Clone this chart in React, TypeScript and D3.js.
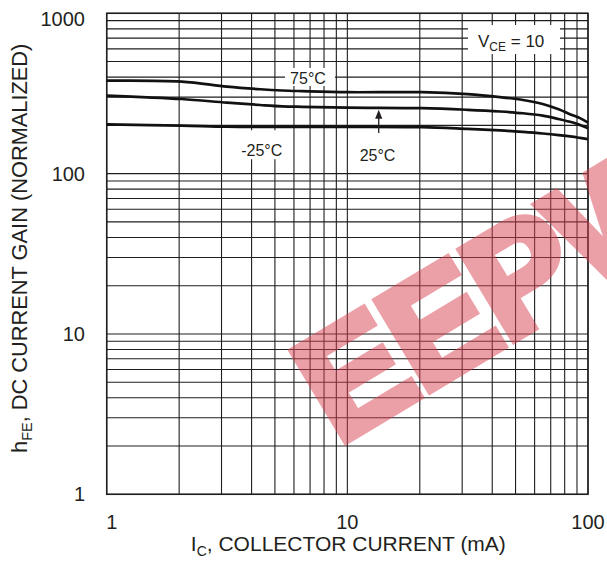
import React from "react";
import * as d3 from "d3";

// ---- data ----
const currents = [1, 2.05, 3.16, 4.34, 5.35, 6.48, 10, 20.4, 31.6, 43.1, 53.7, 64.8, 75.5, 85.8, 92.6, 100];
const gain75 = [380, 375, 349, 336, 330, 327, 322, 322, 313, 300, 288, 272, 252, 232, 222, 208];
const gain25 = [307, 292, 277, 268, 263, 261, 258, 256, 250, 244, 238, 230, 219, 209, 201, 192];
const gainM25 = [203, 199, 196, 196, 196, 196, 196, 195, 190, 186, 182, 178, 174, 170, 167, 164];
const xTickLabels = [1, 10, 100];
const yTickLabels = [1, 10, 100, 1000];

const W = 607;
const H = 567;
const L = 106.7, R = 588, T = 13.3, B = 494.3;
const INK = "#231f20";
const FONT = "'Liberation Sans', Arial, Helvetica, sans-serif";

export default function App() {
  const x = d3.scaleLog().domain([1, 100]).range([L, R]);
  const y = d3.scaleLog().domain([1, 1000]).range([B, T]);
  const xGrid = x.ticks();
  const yGrid = y.ticks();

  const line = d3
    .line<[number, number]>()
    .x((d) => x(d[0]))
    .y((d) => y(d[1]))
    .curve(d3.curveCatmullRom.alpha(0.5));
  const series = [gain75, gain25, gainM25].map((g) =>
    currents.map((c, i) => [c, g[i]] as [number, number])
  );

  // annotation anchors in data units
  const a75 = { x: x(6.86), y: y(395) };
  const aM25 = { x: x(4.41), y: y(142) };
  const a25 = { x: x(13.35), y: y(132.7) };
  const arrowX = x(13.5);
  const arrowFrom = y(179.5);
  const arrowTo = y(250);

  return (
    <svg
      width={W}
      height={H}
      style={{ position: "absolute", left: 0, top: 0, background: "#fff" }}
      fontFamily={FONT}
    >
      <rect x={0} y={0} width={W} height={H} fill="#fff" />
      {/* grid */}
      <g stroke="#1e1e1e" strokeWidth={1.1}>
        {xGrid.map((v, i) => (
          <line key={"gx" + i} x1={x(v)} x2={x(v)} y1={T} y2={B} />
        ))}
        {yGrid.map((v, i) => (
          <line key={"gy" + i} x1={L} x2={R} y1={y(v)} y2={y(v)} />
        ))}
      </g>
      <rect x={L} y={T} width={R - L} height={B - T} fill="none" stroke="#1e1e1e" strokeWidth={1.5} />

      {/* label backgrounds */}
      <rect x={a75.x - 23} y={a75.y - 10} width={50} height={18} fill="#fff" />
      <rect x={aM25.x - 25} y={aM25.y - 19} width={50} height={29} fill="#fff" />
      <rect x={a25.x - 20} y={a25.y - 10} width={40} height={18} fill="#fff" />
      <rect x={468} y={25} width={92} height={29} fill="#fff" />

      {/* curves */}
      <g fill="none" stroke="#111" strokeWidth={2.7}>
        {series.map((s, i) => (
          <path key={"s" + i} d={line(s) || ""} />
        ))}
      </g>

      {/* annotations */}
      <g fill={INK} fontSize={16}>
        <text x={a75.x} y={a75.y + 5.7} textAnchor="middle">75°C</text>
        <text x={aM25.x} y={aM25.y + 6.7} textAnchor="middle">-25°C</text>
        <text x={a25.x} y={a25.y + 6.7} textAnchor="middle">25°C</text>
      </g>
      <line x1={arrowX} x2={arrowX} y1={arrowFrom} y2={arrowTo + 6} stroke={INK} strokeWidth={1.3} />
      <path
        d={`M${arrowX},${arrowTo} L${arrowX - 3.6},${arrowTo + 9} L${arrowX + 3.6},${arrowTo + 9} Z`}
        fill={INK}
      />
      <text x={478} y={46.7} fill={INK} fontSize={17}>
        V<tspan fontSize={12} dy={4}>CE</tspan>
        <tspan dy={-4}> = 10</tspan>
      </text>

      {/* tick labels */}
      <g fill={INK} fontSize={20}>
        {yTickLabels.map((v) => (
          <text key={"yt" + v} x={85} y={Math.max(y(v) + 7, 26)} textAnchor="end">
            {v}
          </text>
        ))}
        {xTickLabels.map((v) => (
          <text key={"xt" + v} x={Math.max(x(v), L + 5)} y={529} textAnchor="middle">
            {v}
          </text>
        ))}
      </g>

      {/* axis titles */}
      <text x={(L + R) / 2 + 1} y={551} fill={INK} fontSize={21} textAnchor="middle">
        I<tspan fontSize={14} dy={5}>C</tspan>
        <tspan dy={-5}>, COLLECTOR CURRENT (mA)</tspan>
      </text>
      <text
        transform={`translate(27,${(T + B) / 2 - 5.5}) rotate(-90)`}
        fill={INK}
        fontSize={21.8}
        textAnchor="middle"
      >
        h<tspan fontSize={14.5} dy={5}>FE</tspan>
        <tspan dy={-5}>, DC CURRENT GAIN (NORMALIZED)</tspan>
      </text>

      {/* watermark */}
      <text
        transform="translate(338,445) rotate(-31)"
        fontSize={150}
        fontWeight="bold"
        fill="#d9414f"
        stroke="#d9414f"
        strokeWidth={9}
        strokeLinejoin="miter"
        opacity={0.5}
        letterSpacing={-2}
      >
        EEPW
      </text>
    </svg>
  );
}
